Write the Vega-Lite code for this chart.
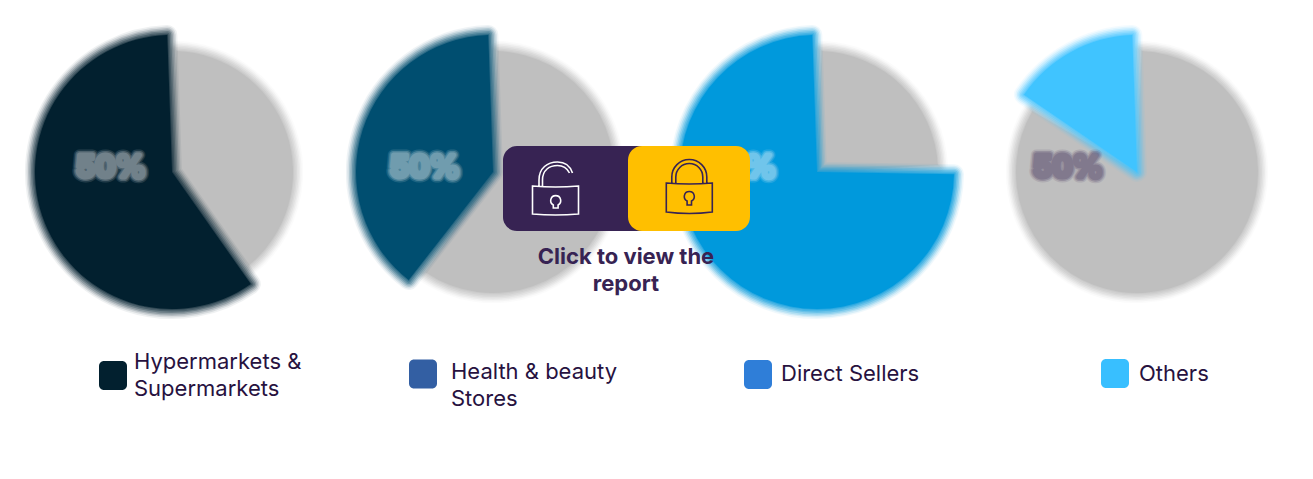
{
  "$schema": "https://vega.github.io/schema/vega-lite/v6.json",
  "width": 1313,
  "height": 479,
  "padding": 0,
  "autosize": {"type": "fit", "contains": "padding"},
  "background": "white",
  "config": {"view": {"stroke": null}, "legend": {"disable": true}},
  "datasets": {
    "shares": [
      {"channel": "Hypermarkets & Supermarkets", "slot": 1, "segment": "Rest", "from": 0, "to": 39.7},
      {"channel": "Hypermarkets & Supermarkets", "slot": 1, "segment": "Share1", "from": 39.7, "to": 100},
      {"channel": "Health & beauty Stores", "slot": 2, "segment": "Rest", "from": 0, "to": 60},
      {"channel": "Health & beauty Stores", "slot": 2, "segment": "Share2", "from": 60, "to": 100},
      {"channel": "Direct Sellers", "slot": 3, "segment": "Rest", "from": 0, "to": 24.7},
      {"channel": "Direct Sellers", "slot": 3, "segment": "Share3", "from": 24.7, "to": 100},
      {"channel": "Others", "slot": 4, "segment": "Rest", "from": 0, "to": 84},
      {"channel": "Others", "slot": 4, "segment": "Share4", "from": 84, "to": 100}
    ],
    "items": [
      {"slot": 1, "name": "Hypermarkets & Supermarkets", "lines": ["Hypermarkets &", "Supermarkets"], "pct": "50%"},
      {"slot": 2, "name": "Health & beauty Stores", "lines": ["Health & beauty", "Stores"], "pct": "50%"},
      {"slot": 3, "name": "Direct Sellers", "lines": ["Direct Sellers"], "pct": "50%"},
      {"slot": 4, "name": "Others", "lines": ["Others"], "pct": "50%"}
    ],
    "caption": [{"slot": 1, "lines": ["Click to view the", "report"]}]
  },
  "resolve": {"scale": {"x": "independent", "y": "independent", "color": "independent", "stroke": "independent"}},
  "layer": [
    {
      "data": {"name": "shares"},
      "transform": [{"filter": "datum.segment == 'Rest'"}],
      "encoding": {
        "x": {"field": "slot", "type": "quantitative", "stack": null, "axis": null, "scale": {"domain": [1, 2, 3, 4], "range": [172, 493, 817, 1137]}},
        "y": {"datum": 1, "type": "quantitative", "stack": null, "axis": null, "scale": {"domain": [0, 1], "range": [0, 172]}},
        "theta": {"field": "from", "type": "quantitative", "scale": {"domain": [0, 100], "range": [0, 6.28319]}},
        "theta2": {"field": "to"},
        "color": {"value": "#bfbfbf"},
        "stroke": {"value": "#bfbfbf"}
      },
      "layer": [
        {"mark": {"type": "arc", "radius": 121, "padAngle": 0.078, "strokeWidth": 20, "strokeJoin": "round", "opacity": 0.06}},
        {"mark": {"type": "arc", "radius": 121, "padAngle": 0.078, "strokeWidth": 17, "strokeJoin": "round", "opacity": 0.1}},
        {"mark": {"type": "arc", "radius": 121, "padAngle": 0.078, "strokeWidth": 14, "strokeJoin": "round", "opacity": 0.15}},
        {"mark": {"type": "arc", "radius": 121, "padAngle": 0.078, "strokeWidth": 11, "strokeJoin": "round", "opacity": 0.2}},
        {"mark": {"type": "arc", "radius": 121, "padAngle": 0.078, "strokeWidth": 8, "strokeJoin": "round", "opacity": 0.25}},
        {"mark": {"type": "arc", "radius": 121, "padAngle": 0.078, "strokeWidth": 5, "strokeJoin": "round", "opacity": 0.3}},
        {"mark": {"type": "arc", "radius": 121, "padAngle": 0.078, "strokeWidth": 2, "strokeJoin": "round", "opacity": 0.4}},
        {"mark": {"type": "arc", "radius": 121, "padAngle": 0.078, "strokeWidth": 0, "opacity": 1}}
      ]
    },
    {
      "data": {"name": "shares"},
      "transform": [{"filter": "datum.segment != 'Rest'"}],
      "encoding": {
        "x": {"field": "slot", "type": "quantitative", "stack": null, "axis": null, "scale": {"domain": [1, 2, 3, 4], "range": [172, 493, 817, 1137]}},
        "y": {"datum": 1, "type": "quantitative", "stack": null, "axis": null, "scale": {"domain": [0, 1], "range": [0, 172]}},
        "theta": {"field": "from", "type": "quantitative", "scale": {"domain": [0, 100], "range": [0, 6.28319]}},
        "theta2": {"field": "to"},
        "color": {"field": "segment", "type": "nominal", "scale": {"domain": ["Share1", "Share2", "Share3", "Share4"], "range": ["#02202f", "#004e70", "#0099dc", "#40c4ff"]}},
        "stroke": {"field": "segment", "type": "nominal", "scale": {"domain": ["Share1", "Share2", "Share3", "Share4"], "range": ["#02202f", "#004e70", "#0099dc", "#40c4ff"]}}
      },
      "layer": [
        {"mark": {"type": "arc", "radius": 137, "padAngle": 0.069, "strokeWidth": 20, "strokeJoin": "round", "opacity": 0.06}},
        {"mark": {"type": "arc", "radius": 137, "padAngle": 0.069, "strokeWidth": 17, "strokeJoin": "round", "opacity": 0.1}},
        {"mark": {"type": "arc", "radius": 137, "padAngle": 0.069, "strokeWidth": 14, "strokeJoin": "round", "opacity": 0.15}},
        {"mark": {"type": "arc", "radius": 137, "padAngle": 0.069, "strokeWidth": 11, "strokeJoin": "round", "opacity": 0.2}},
        {"mark": {"type": "arc", "radius": 137, "padAngle": 0.069, "strokeWidth": 8, "strokeJoin": "round", "opacity": 0.25}},
        {"mark": {"type": "arc", "radius": 137, "padAngle": 0.069, "strokeWidth": 5, "strokeJoin": "round", "opacity": 0.3}},
        {"mark": {"type": "arc", "radius": 137, "padAngle": 0.069, "strokeWidth": 2, "strokeJoin": "round", "opacity": 0.4}},
        {"mark": {"type": "arc", "radius": 137, "padAngle": 0.069, "strokeWidth": 0, "opacity": 1}}
      ]
    },
    {
      "data": {"name": "items"},
      "encoding": {
        "x": {"field": "slot", "type": "quantitative", "axis": null, "scale": {"domain": [1, 2, 3, 4], "range": [111, 425, 741, 1068]}},
        "y": {"datum": 1, "type": "quantitative", "axis": null, "scale": {"domain": [0, 1], "range": [0, 168]}},
        "text": {"field": "pct"},
        "color": {"field": "slot", "type": "ordinal", "scale": {"domain": [1, 2, 3, 4], "range": ["#ffffff", "#ffffff", "#ffffff", "#372353"]}},
        "stroke": {"field": "slot", "type": "ordinal", "scale": {"domain": [1, 2, 3, 4], "range": ["#ffffff", "#ffffff", "#ffffff", "#372353"]}}
      },
      "layer": [
        {"mark": {"type": "text", "font": "Inter", "fontWeight": "bold", "fontSize": 30, "align": "center", "baseline": "middle", "strokeWidth": 11, "strokeJoin": "round", "opacity": 0.12}},
        {"mark": {"type": "text", "font": "Inter", "fontWeight": "bold", "fontSize": 30, "align": "center", "baseline": "middle", "strokeWidth": 8, "strokeJoin": "round", "opacity": 0.2}},
        {"mark": {"type": "text", "font": "Inter", "fontWeight": "bold", "fontSize": 30, "align": "center", "baseline": "middle", "strokeWidth": 5, "strokeJoin": "round", "opacity": 0.2}}
      ]
    },
    {
      "data": {"name": "caption"},
      "mark": {"type": "rect", "width": 157, "height": 85, "cornerRadius": 14, "color": "#372353"},
      "encoding": {
        "x": {"datum": 1, "type": "quantitative", "axis": null, "scale": {"domain": [0, 1], "range": [0, 581.5]}},
        "y": {"datum": 1, "type": "quantitative", "axis": null, "scale": {"domain": [0, 1], "range": [0, 188.5]}}
      }
    },
    {
      "data": {"name": "caption"},
      "mark": {"type": "rect", "width": 122, "height": 85, "cornerRadius": 14, "color": "#ffbf00"},
      "encoding": {
        "x": {"datum": 1, "type": "quantitative", "axis": null, "scale": {"domain": [0, 1], "range": [0, 689]}},
        "y": {"datum": 1, "type": "quantitative", "axis": null, "scale": {"domain": [0, 1], "range": [0, 188.5]}}
      }
    },
    {
      "data": {"name": "caption"},
      "mark": {
        "type": "point",
        "size": 4,
        "filled": false,
        "opacity": 1,
        "stroke": "#ffffff",
        "strokeWidth": 1.6,
        "shape": "M-23,-2 Q0,0 23,-2 L23,26 Q0,28 -23,26 Z M-16.5,-2 L-16.5,-8 C-16.5,-20 -8,-26 2,-26 C10,-26 15,-21 17,-15 M-13,-2 L-13,-8 C-13,-18 -6,-22.5 2,-22.5 C8,-22.5 12,-19 14,-15 M-2.2,17 A5,5 0 1 1 2.6,17 L2.6,20 L-2.2,20 Z"
      },
      "encoding": {
        "x": {"datum": 1, "type": "quantitative", "axis": null, "scale": {"domain": [0, 1], "range": [0, 555.5]}},
        "y": {"datum": 1, "type": "quantitative", "axis": null, "scale": {"domain": [0, 1], "range": [0, 188]}}
      }
    },
    {
      "data": {"name": "caption"},
      "mark": {
        "type": "point",
        "size": 4,
        "filled": false,
        "opacity": 1,
        "stroke": "#372353",
        "strokeWidth": 1.6,
        "shape": "M-23,-5 Q0,-3 23,-5 L23,24 Q0,27 -23,24 Z M-17.5,-5 L-17.5,-11 A17.5,17.5 0 0 1 17.5,-11 L17.5,-5 M-13.5,-5 L-13.5,-11 A13.5,13.5 0 0 1 13.5,-11 L13.5,-5 M-2.2,13 A5,5 0 1 1 2.2,13 L2.2,17 L-2.2,17 Z"
      },
      "encoding": {
        "x": {"datum": 1, "type": "quantitative", "axis": null, "scale": {"domain": [0, 1], "range": [0, 689.3]}},
        "y": {"datum": 1, "type": "quantitative", "axis": null, "scale": {"domain": [0, 1], "range": [0, 188]}}
      }
    },
    {
      "data": {"name": "caption"},
      "mark": {"type": "text", "font": "Inter", "fontWeight": "bold", "fontSize": 22, "lineHeight": 27, "align": "center", "baseline": "top", "color": "#372353"},
      "encoding": {
        "x": {"datum": 1, "type": "quantitative", "axis": null, "scale": {"domain": [0, 1], "range": [0, 626]}},
        "y": {"datum": 1, "type": "quantitative", "axis": null, "scale": {"domain": [0, 1], "range": [0, 247]}},
        "text": {"field": "lines"}
      }
    },
    {
      "data": {"name": "items"},
      "mark": {"type": "rect", "width": 28, "height": 29, "cornerRadius": 5},
      "encoding": {
        "x": {"field": "slot", "type": "quantitative", "axis": null, "scale": {"domain": [1, 2, 3, 4], "range": [113, 423, 758, 1115]}},
        "y": {"field": "slot", "type": "quantitative", "axis": null, "scale": {"domain": [1, 2, 3, 4], "range": [375.5, 374, 374.5, 373.5]}},
        "color": {"field": "name", "type": "nominal", "scale": {"domain": ["Hypermarkets & Supermarkets", "Health & beauty Stores", "Direct Sellers", "Others"], "range": ["#02202f", "#335fa3", "#2f7ed8", "#38bfff"]}}
      }
    },
    {
      "data": {"name": "items"},
      "mark": {"type": "text", "font": "Inter", "fontSize": 22, "lineHeight": 27, "align": "left", "baseline": "top", "color": "#27123f"},
      "encoding": {
        "x": {"field": "slot", "type": "quantitative", "axis": null, "scale": {"domain": [1, 2, 3, 4], "range": [134, 451, 781, 1139]}},
        "y": {"field": "slot", "type": "quantitative", "axis": null, "scale": {"domain": [1, 2, 3, 4], "range": [352, 362, 364, 364]}},
        "text": {"field": "lines"}
      }
    }
  ]
}
